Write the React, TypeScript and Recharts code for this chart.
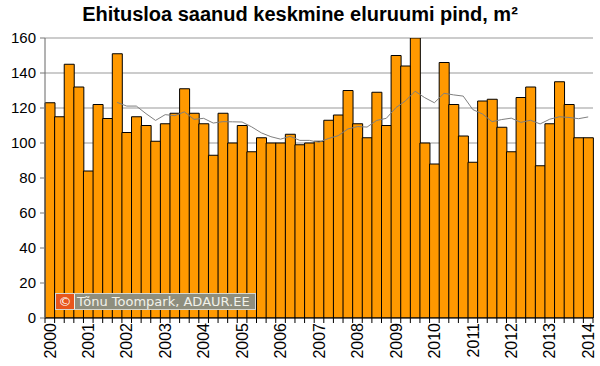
import React from "react";
import { ComposedChart, Bar, Line, XAxis, YAxis, CartesianGrid } from "recharts";

// quarterly data, 2000 Q1 .. 2014 Q1
const years = [2000, 2001, 2002, 2003, 2004, 2005, 2006, 2007, 2008, 2009, 2010, 2011, 2012, 2013, 2014];
const quarters = ["I", "II", "III", "IV"];

// average floor area of dwellings with building permit, m²
const avgArea = [
  123, 115, 145, 132,
  84, 122, 114, 151,
  106, 115, 110, 101,
  111, 117, 131, 117,
  111, 93, 117, 100,
  110, 95, 103, 100,
  100, 105, 99, 100,
  101, 113, 116, 130,
  111, 103, 129, 110,
  150, 144, 160, 100,
  88, 146, 122, 104,
  89, 124, 125, 109,
  95, 126, 132, 87,
  111, 135, 122, 103,
  103,
];

// gray trend line (8 quarter moving average)
const movingAvg = [
  null, null, null, null,
  null, null, null, 123.2,
  121.1, 121.1, 116.8, 112.9,
  116.2, 115.6, 117.8, 113.5,
  114.1, 111.4, 112.2, 112.1,
  112.0, 109.2, 105.8, 103.6,
  102.2, 103.8, 101.5, 101.5,
  100.4, 102.6, 104.2, 108.0,
  109.4, 109.1, 112.9, 114.1,
  120.2, 124.1, 129.6, 125.9,
  123.0, 128.4, 127.5, 126.8,
  119.1, 116.6, 112.2, 113.4,
  114.2, 111.8, 113.0, 110.9,
  113.6, 115.0, 114.6, 113.9,
  114.9,
];

const yTicks = [0, 20, 40, 60, 80, 100, 120, 140, 160];

const data = avgArea.map((v, i) => ({
  year: years[Math.floor(i / 4)],
  q: quarters[i % 4],
  area: v,
  ma: movingAvg[i],
}));

const W = 600;
const H = 366;
const LEFT = 45;
const RIGHT = 7;
const TOP = 38;
const BOTTOM = 48;
const BAND = (W - LEFT - RIGHT) / data.length;

const font = "'Liberation Sans', Arial, sans-serif";

const QuarterTick = (props: any) => {
  const { x, y, payload, index } = props;
  const d = data[index];
  const left = x - BAND / 2;
  return (
    <g>
      <line x1={left} x2={left} y1={y} y2={y + 5} stroke="#000" />
      {index === data.length - 1 && (
        <line x1={x + BAND / 2} x2={x + BAND / 2} y1={y} y2={y + 5} stroke="#000" />
      )}
      {d && d.q === "I" && (
        <text
          x={x}
          y={y + 5}
          transform={`rotate(-90, ${x}, ${y + 5})`}
          textAnchor="end"
          dy="0.36em"
          fontSize={16}
          fontFamily={font}
          fill="#000"
        >
          {payload.value}
        </text>
      )}
    </g>
  );
};

export default function App() {
  return (
    <div style={{ position: "absolute", left: 0, top: 0, width: W, height: H, background: "#fff" }}>
      <div
        style={{
          position: "absolute",
          left: 0,
          top: 3,
          width: W,
          textAlign: "center",
          fontFamily: font,
          fontWeight: "bold",
          fontSize: 20,
          color: "#000",
        }}
      >
        Ehitusloa saanud keskmine eluruumi pind, m²
      </div>
      <ComposedChart
        width={W}
        height={H}
        data={data}
        margin={{ top: TOP, right: RIGHT, left: 0, bottom: 0 }}
        barCategoryGap={0}
        barGap={0}
      >
        <CartesianGrid vertical={false} stroke="#999" />
        <XAxis
          dataKey="year"
          interval={0}
          height={BOTTOM}
          tickLine={false}
          tickSize={0}
          tickMargin={0}
          axisLine={{ stroke: "#000" }}
          tick={<QuarterTick />}
        />
        <YAxis
          width={LEFT}
          domain={[0, 160]}
          ticks={yTicks}
          allowDataOverflow
          tickSize={5}
          tickMargin={4}
          axisLine={{ stroke: "#666" }}
          tickLine={{ stroke: "#777" }}
          tick={{ fill: "#000", fontSize: 15, fontFamily: font }}
        />
        <Bar dataKey="area" fill="#FF9900" stroke="#000" strokeWidth={1} isAnimationActive={false} />
        <Line
          dataKey="ma"
          type="linear"
          stroke="#7f7f7f"
          strokeWidth={1}
          dot={false}
          connectNulls={false}
          isAnimationActive={false}
        />
      </ComposedChart>
      <div
        style={{
          position: "absolute",
          left: 55,
          top: 293,
          width: 201,
          height: 17,
          display: "flex",
          background: "#8e8e7e",
          border: "1px solid #d8d8d0",
          boxSizing: "border-box",
          fontFamily: "'DejaVu Sans', Verdana, sans-serif",
          fontSize: 13,
          color: "#f2f2ea",
          lineHeight: "15px",
        }}
      >
        <div
          style={{
            width: 18,
            background: "#e8561c",
            color: "#fff",
            textAlign: "center",
            borderRight: "1px solid #f0f0e8",
          }}
        >
          ©
        </div>
        <div style={{ paddingLeft: 2, whiteSpace: "nowrap" }}>Tõnu Toompark, ADAUR.EE</div>
      </div>
    </div>
  );
}
